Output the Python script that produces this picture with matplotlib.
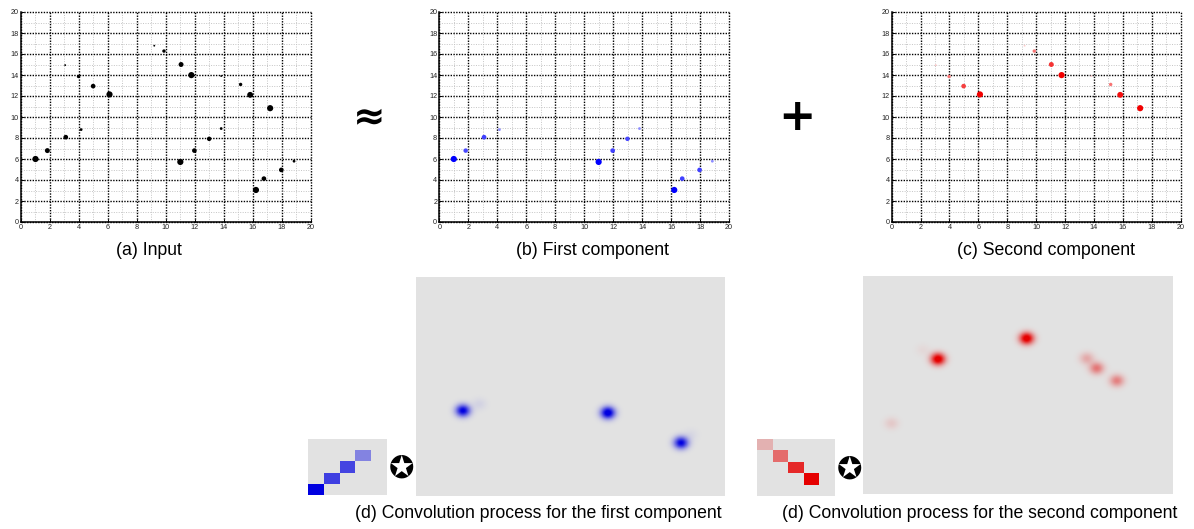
import numpy as np
import matplotlib
matplotlib.use("Agg")
import matplotlib.pyplot as plt

W, H = 1194, 529

# ---- point process data: location, amplitude in each component ----
pts_x = [1.0, 1.82, 3.09, 4.15, 3.05, 3.97, 4.98, 6.11, 9.2, 9.87, 11.05, 11.76,
         11.0, 11.97, 12.99, 13.82, 13.82, 15.16, 15.82, 17.2, 16.22, 16.77, 17.97, 18.85]
pts_y = [6.0, 6.8, 8.08, 8.8, 14.94, 13.86, 12.94, 12.15, 16.79, 16.28, 15.0, 13.99,
         5.72, 6.8, 7.92, 8.9, 13.9, 13.1, 12.11, 10.84, 3.05, 4.13, 4.96, 5.79]
amp_first = [1.0, 0.72, 0.75, 0.45, 0.0, 0.0, 0.0, 0.0, 0.0, 0.0, 0.0, 0.0,
             1.0, 0.75, 0.72, 0.45, 0.0, 0.0, 0.0, 0.0, 1.0, 0.75, 0.75, 0.45]
amp_second = [0.0, 0.08, 0.0, 0.0, 0.22, 0.55, 0.75, 1.0, 0.2, 0.55, 0.8, 1.0,
              0.0, 0.0, 0.0, 0.0, 0.2, 0.55, 0.95, 1.0, 0.0, 0.0, 0.0, 0.0]

# ---- convolution kernels (5x5, top row first) ----
kernel_first = [[0, 0, 0, 0, 0],
                [0, 0, 0, 0.42, 0],
                [0, 0, 0.7, 0, 0],
                [0, 0.72, 0, 0, 0],
                [1.0, 0, 0, 0, 0]]
kernel_second = [[0.22, 0, 0, 0, 0],
                 [0, 0.52, 0, 0, 0],
                 [0, 0, 0.82, 0, 0],
                 [0, 0, 0, 1.0, 0],
                 [0, 0, 0, 0, 0]]

# ---- activation maps: blob centres (fraction of width / height from top), weight ----
act_first_u = [0.152, 0.621, 0.858, 0.205, 0.89]
act_first_v = [0.61, 0.62, 0.757, 0.58, 0.72]
act_first_w = [0.9, 1.0, 0.88, 0.06, 0.04]
act_second_u = [0.242, 0.528, 0.722, 0.754, 0.819, 0.092, 0.193]
act_second_v = [0.381, 0.286, 0.378, 0.423, 0.48, 0.676, 0.339]
act_second_w = [1.0, 1.0, 0.22, 0.42, 0.38, 0.1, 0.04]

BG = np.array([0.89, 0.89, 0.89])
BLUE = np.array([0.0, 0.0, 0.88])
RED = np.array([0.9, 0.0, 0.0])

plt.rcParams['font.family'] = ['Liberation Sans', 'DejaVu Sans']
fig = plt.figure(figsize=(W / 100, H / 100), dpi=100)


def px_axes(x0, y0, x1, y1):
    return fig.add_axes([x0 / W, 1 - y1 / H, (x1 - x0) / W, (y1 - y0) / H])


def scatter_panel(ax, amps, base, shade=True):
    ax.set_xlim(0, 20)
    ax.set_ylim(0, 20)
    ax.set_xticks(range(0, 21, 2))
    ax.set_yticks(range(0, 21, 2))
    ax.set_xticks(range(1, 20, 2), minor=True)
    ax.set_yticks(range(1, 20, 2), minor=True)
    ax.grid(which='minor', color='#c4c4c4', ls=(0, (1, 1.5)), lw=0.7)
    ax.grid(which='major', color='black', ls=(0, (1, 1)), lw=1.0)
    for ln in ax.get_xgridlines() + ax.get_ygridlines():
        ln.set_clip_on(False)
    ax.set_axisbelow(True)
    ax.tick_params(which='major', direction='in', length=2.5, width=0.7,
                   labelsize=5.2, pad=1.5, colors='black', labelcolor='#222222')
    ax.tick_params(which='minor', length=0)
    for s in ('top', 'right'):
        ax.spines[s].set_visible(False)
    for s in ('left', 'bottom'):
        ax.spines[s].set_linewidth(1.1)
    a = np.clip(np.asarray(amps, float), 0, 1)
    keep = a > 0
    xs = np.asarray(pts_x)[keep]
    ys = np.asarray(pts_y)[keep]
    a = a[keep]
    if shade:
        cols = 1 - a[:, None] * (1 - base[None, :])
    else:
        cols = np.repeat(base[None, :], len(a), axis=0)
    sizes = (6.2 * np.maximum(a, 0.3) * 0.72) ** 2
    ax.scatter(xs, ys, s=sizes, c=cols, edgecolors='none', zorder=3, clip_on=False)


# input = superposition of both components, drawn in black with size by amplitude
amp_input = np.clip(np.asarray(amp_first) + np.asarray(amp_second), 0, 1)
ax1 = px_axes(21, 12, 310.7, 222)
scatter_panel(ax1, amp_input, np.array([0.0, 0.0, 0.0]), shade=False)
ax2 = px_axes(439.3, 12, 729, 222)
scatter_panel(ax2, amp_first, np.array([0.0, 0.0, 1.0]))
ax3 = px_axes(891.7, 12, 1180.6, 222)
scatter_panel(ax3, amp_second, np.array([0.95, 0.0, 0.0]))


def activation_image(us, vs, ws, color, n=400):
    u = (np.arange(n) + 0.5) / n
    uu, vv = np.meshgrid(u, u)
    acc = np.zeros_like(uu)
    for cu, cv, w in zip(us, vs, ws):
        acc += w * np.exp(-((uu - cu) ** 2 / (2 * 0.016 ** 2) + (vv - cv) ** 2 / (2 * 0.019 ** 2)))
    acc = np.clip(acc * 1.15, 0, 1)[..., None]
    return BG * (1 - acc) + color * acc


def kernel_image(k, color):
    k = np.asarray(k, float)[..., None]
    return BG * (1 - k) + color * k


for box, us, vs, ws, col in [((416, 277, 725, 496), act_first_u, act_first_v, act_first_w, BLUE),
                             ((863.3, 276, 1172.7, 494), act_second_u, act_second_v, act_second_w, RED)]:
    ax = px_axes(*box)
    ax.imshow(activation_image(us, vs, ws, col), aspect='auto', interpolation='bilinear')
    ax.axis('off')

for box, k, col in [((308, 439, 387, 495), kernel_first, BLUE),
                    ((757, 439, 835, 495.7), kernel_second, RED)]:
    ax = px_axes(*box)
    ax.imshow(kernel_image(k, col), aspect='auto', interpolation='nearest')
    ax.axis('off')


def ftext(x, y, s, **kw):
    fig.text(x / W, 1 - y / H, s, ha='center', va='center', **kw)


CAP = 12.7
ftext(149, 250, '(a) Input', fontsize=CAP)
ftext(592, 250, '(b) First component', fontsize=CAP)
ftext(1046, 250, '(c) Second component', fontsize=CAP)
ftext(538, 514, '(d) Convolution process for the first component', fontsize=CAP)
ftext(980, 514, '(d) Convolution process for the second component', fontsize=CAP)

ftext(369, 117, '\u2248', fontsize=28, fontweight='bold', family='DejaVu Sans')
ftext(796.5, 117, '+', fontsize=32, fontweight='bold', family='DejaVu Sans')
ftext(401.7, 469, '\u272A', fontsize=22, family='DejaVu Sans')
ftext(849, 470, '\u272A', fontsize=22, family='DejaVu Sans')

fig.savefig('out.png', dpi=100)
